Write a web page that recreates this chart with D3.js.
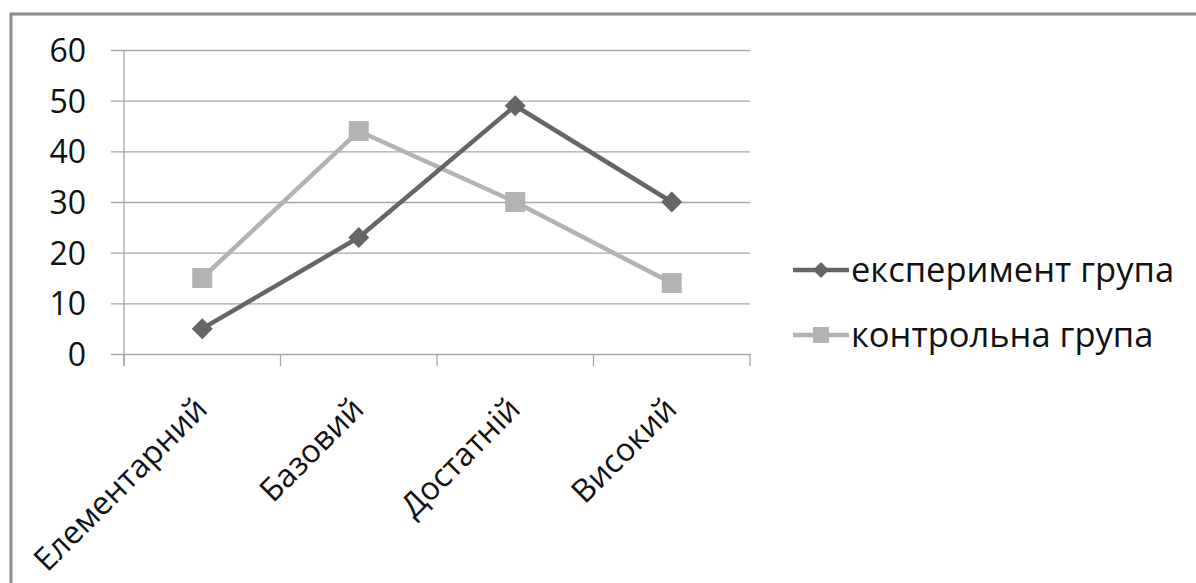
<!DOCTYPE html>
<html>
<head>
<meta charset="utf-8">
<script src="https://cdn.jsdelivr.net/npm/d3@7"></script>
<style>
  html, body { margin: 0; padding: 0; background: #fff; }
  svg { display: block; }
</style>
</head>
<body>
<svg id="chart" width="1196" height="583"></svg>
<script>
const categories = ["Елементарний", "Базовий", "Достатній", "Високий"];
const experimentValues = [5, 23, 49, 30];
const controlValues = [15, 44, 30, 14];
const seriesNames = ["експеримент група", "контрольна група"];
const yTicks = [0, 10, 20, 30, 40, 50, 60];

const series = [
  { name: seriesNames[0], values: experimentValues, color: "#666666", marker: "diamond" },
  { name: seriesNames[1], values: controlValues, color: "#b3b3b3", marker: "square" }
];

const svg = d3.select("#chart");
const font = "'Open Sans', 'DejaVu Sans', sans-serif";
const fsTick = 32;
const fsText = 34.5;
const fsCat = 32;

// outer frame (left and top visible)
svg.append("rect")
  .attr("x", 11).attr("y", 14).attr("width", 1300).attr("height", 700)
  .attr("fill", "none").attr("stroke", "#8c8c8c").attr("stroke-width", 3);

const plot = { left: 124, right: 750, top: 50, bottom: 354 };

const x = d3.scaleBand().domain(categories).range([plot.left, plot.right]);
const y = d3.scaleLinear().domain([0, 60]).range([plot.bottom, plot.top]);

// gridlines + y tick marks
const yAxis = d3.axisLeft(y).tickValues(yTicks).tickSize(-(plot.right - plot.left)).tickPadding(38).tickSizeOuter(0);
const gy = svg.append("g").attr("transform", `translate(${plot.left},0)`).call(yAxis);
gy.select(".domain").remove();
gy.selectAll(".tick line").attr("stroke", "#a6a6a6").attr("stroke-width", 1.3).attr("x1", -13);
gy.selectAll(".tick text").attr("font-family", font).attr("font-size", fsTick).attr("fill", "#111").attr("dy", "0.36em");

// vertical axis line
svg.append("line")
  .attr("x1", plot.left).attr("x2", plot.left)
  .attr("y1", plot.top).attr("y2", plot.bottom + 12)
  .attr("stroke", "#a6a6a6").attr("stroke-width", 1.3);

// x axis tick marks at band boundaries
const boundaries = categories.map(c => x(c)).concat([x(categories[categories.length - 1]) + x.bandwidth()]);
svg.append("g").selectAll("line").data(boundaries).join("line")
  .attr("x1", d => d).attr("x2", d => d)
  .attr("y1", plot.bottom).attr("y2", plot.bottom + 12)
  .attr("stroke", "#a6a6a6").attr("stroke-width", 1.3);

// x labels rotated -45
svg.append("g").selectAll("text").data(categories).join("text")
  .attr("transform", d => `translate(${x(d) + x.bandwidth() / 2 + 7},${plot.bottom + 57}) rotate(-45)`)
  .attr("text-anchor", "end")
  .attr("font-family", font).attr("font-size", fsCat).attr("fill", "#111")
  .text(d => d);

function drawMarker(g, type, color, cx, cy) {
  if (type === "diamond") {
    const r = 10.5;
    g.append("path")
      .attr("d", `M${cx},${cy - r}L${cx + r},${cy}L${cx},${cy + r}L${cx - r},${cy}Z`)
      .attr("fill", color);
  } else {
    const s = 20;
    g.append("rect").attr("x", cx - s / 2).attr("y", cy - s / 2)
      .attr("width", s).attr("height", s).attr("fill", color);
  }
}

const line = d3.line()
  .x((d, i) => x(categories[i]) + x.bandwidth() / 2)
  .y(d => y(d));

// draw control first then experiment on top
[series[1], series[0]].forEach(s => {
  const g = svg.append("g");
  g.append("path").datum(s.values)
    .attr("d", line)
    .attr("fill", "none").attr("stroke", s.color).attr("stroke-width", 4.5)
    .attr("stroke-linejoin", "round");
  s.values.forEach((v, i) => drawMarker(g, s.marker, s.color, x(categories[i]) + x.bandwidth() / 2, y(v)));
});

// legend
const legendY = [270, 335];
series.forEach((s, i) => {
  const g = svg.append("g");
  const ly = legendY[i];
  g.append("line").attr("x1", 793).attr("x2", 849).attr("y1", ly).attr("y2", ly)
    .attr("stroke", s.color).attr("stroke-width", 4.5);
  if (s.marker === "diamond") {
    const r = 8;
    g.append("path").attr("d", `M821,${ly - r}L${821 + r},${ly}L821,${ly + r}L${821 - r},${ly}Z`).attr("fill", s.color);
  } else {
    g.append("rect").attr("x", 813).attr("y", ly - 8).attr("width", 16).attr("height", 16).attr("fill", s.color);
  }
  g.append("text").attr("x", 851).attr("y", ly).attr("dy", "0.36em")
    .attr("font-family", font).attr("font-size", fsText).attr("fill", "#111")
    .text(s.name);
});
</script>
</body>
</html>
